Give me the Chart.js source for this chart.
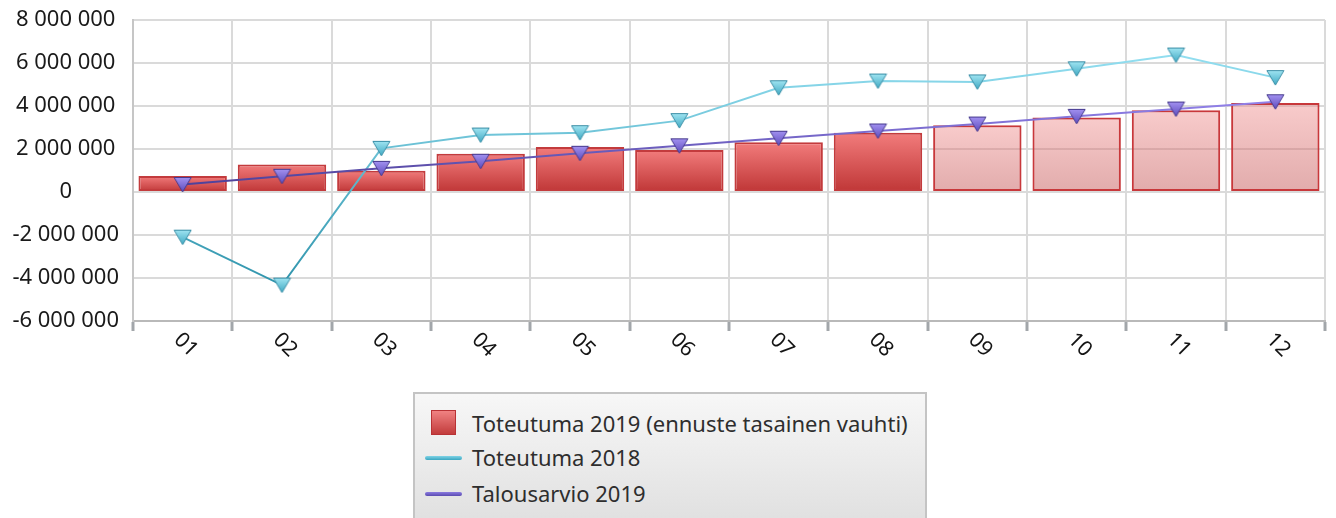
<!DOCTYPE html>
<html><head><meta charset="utf-8">
<script src="https://cdn.jsdelivr.net/npm/chart.js@4"></script>
<style>
html,body{margin:0;padding:0;background:#fff;}
#wrap{position:relative;width:1336px;height:518px;overflow:hidden;}
#c{position:absolute;left:0;top:0;}
#legend{position:absolute;left:413px;top:392px;width:510px;height:150px;border:2px solid #c4c4c4;background:linear-gradient(#f7f7f7,#dcdcdc);font-family:'Noto Sans',sans-serif;font-size:22px;color:#2e2e2e;}
.row{position:absolute;left:0;height:30px;width:100%;}
.row span.t{position:absolute;left:57px;top:0;line-height:30px;white-space:nowrap;}
.sq{position:absolute;left:16px;top:2px;width:23px;height:23px;border:1px solid #b83235;background:linear-gradient(#f08282,#c23c3c);}
.ln{position:absolute;left:10px;top:14px;width:37px;height:4px;border-radius:2px;}
</style>
</head><body>
<div id="wrap">
<canvas id="c" width="1336" height="518"></canvas>
<div id="legend"></div>
</div>
<script>
const months = ['01','02','03','04','05','06','07','08','09','10','11','12'];
const toteutuma2019 = [740000, 1280000, 990000, 1780000, 2090000, 1950000, 2310000, 2760000, 3100000, 3460000, 3800000, 4140000];
const ennuste2019 = [false, false, false, false, false, false, false, false, true, true, true, true];
const toteutuma2018 = [-2100000, -4330000, 2030000, 2650000, 2760000, 3320000, 4850000, 5160000, 5120000, 5730000, 6370000, 5320000];
const talousarvio2019 = [350000, 730000, 1100000, 1430000, 1800000, 2150000, 2500000, 2840000, 3160000, 3520000, 3860000, 4200000];
const seriesLabels = ['Toteutuma 2019 (ennuste tasainen vauhti)', 'Toteutuma 2018', 'Talousarvio 2019'];
const yMin = -6000000, yMax = 8000000, yStep = 2000000;

const FONT = "'Noto Sans', sans-serif";

function triangleMarker(top, bottom, stroke) {
  const c = document.createElement('canvas');
  c.width = 19; c.height = 17;
  const g = c.getContext('2d');
  const gr = g.createLinearGradient(0, 1, 0, 16);
  gr.addColorStop(0, top); gr.addColorStop(1, bottom);
  g.beginPath();
  g.moveTo(1, 1.5); g.lineTo(18, 1.5); g.lineTo(9.5, 16); g.closePath();
  g.fillStyle = gr; g.fill();
  g.lineWidth = 1; g.strokeStyle = stroke; g.stroke();
  return c;
}
const cyanMarker = triangleMarker('#a2e6f3', '#3fa9c3', '#3a8ea6');
const purpleMarker = triangleMarker('#a493f2', '#5d4bbd', '#463a8e');

function barFill(ctx) {
  const chart = ctx.chart;
  const i = ctx.dataIndex;
  const ys = chart.scales.y;
  if (!ys || i === undefined || !chart.chartArea) return '#e06060';
  const yTop = ys.getPixelForValue(ctx.raw);
  const y0 = ys.getPixelForValue(0);
  const g = chart.ctx.createLinearGradient(0, yTop, 0, y0);
  if (ennuste2019[i]) {
    g.addColorStop(0, 'rgba(240,140,140,0.45)');
    g.addColorStop(1, 'rgba(190,70,70,0.45)');
  } else {
    g.addColorStop(0, '#f27c7c');
    g.addColorStop(1, '#bf3636');
  }
  return g;
}
function lineGrad(top, bottom) {
  return function (ctx) {
    const chart = ctx.chart;
    const ys = chart.scales.y;
    if (!ys || !chart.chartArea) return bottom;
    const d = ctx.dataset.data;
    const yA = ys.getPixelForValue(Math.max(...d));
    const yB = ys.getPixelForValue(Math.min(...d));
    const g = chart.ctx.createLinearGradient(0, yA, 0, yB);
    g.addColorStop(0, top); g.addColorStop(1, bottom);
    return g;
  };
}
function fmt(v) {
  const s = Math.abs(v).toString().replace(/\B(?=(\d{3})+(?!\d))/g, ' ');
  return (v < 0 ? '-' : '') + s;
}

const xLabelPlugin = {
  id: 'xLabels',
  afterDraw(chart) {
    const xs = chart.scales.x;
    const g = chart.ctx;
    g.save();
    g.font = '21px ' + FONT;
    g.fillStyle = '#141414';
    g.textAlign = 'center';
    g.textBaseline = 'middle';
    chart.data.labels.forEach((l, i) => {
      const px = xs.getPixelForTick(i);
      g.save();
      g.translate(px + 3, xs.top + 24);
      g.rotate(Math.PI / 4);
      g.fillText(l, 0, 0);
      g.restore();
    });
    g.restore();
  }
};

const chart = new Chart(document.getElementById('c'), {
  data: {
    labels: months,
    datasets: [
      {
        type: 'bar', label: seriesLabels[0], data: toteutuma2019, order: 3,
        backgroundColor: barFill,
        borderColor: (ctx) => ennuste2019[ctx.dataIndex] ? '#c8383b' : '#c33b3d',
        borderWidth: 2, borderSkipped: false,
        barPercentage: 0.89, categoryPercentage: 1
      },
      {
        type: 'line', label: seriesLabels[1], data: toteutuma2018, order: 2,
        borderColor: lineGrad('#92def0', '#2f94ac'), borderWidth: 2,
        pointStyle: cyanMarker, pointRadius: 9, pointHoverRadius: 9, tension: 0, fill: false
      },
      {
        type: 'line', label: seriesLabels[2], data: talousarvio2019, order: 1,
        borderColor: lineGrad('#9282ea', '#4e419a'), borderWidth: 2,
        pointStyle: purpleMarker, pointRadius: 9, pointHoverRadius: 9, tension: 0, fill: false
      }
    ]
  },
  options: {
    responsive: false,
    animation: false,
    devicePixelRatio: 1,
    layout: { padding: { top: 20, right: 5, left: 0, bottom: 0 } },
    plugins: { legend: { display: false }, tooltip: { enabled: false } },
    scales: {
      x: {
        type: 'category', offset: true,
        grid: { offset: true, color: '#dadada', lineWidth: 2, drawTicks: true, tickLength: 10, tickColor: '#a2a6aa', tickWidth: 3 },
        border: { color: '#b9b9b9', width: 2 },
        ticks: { display: false },
        afterFit(s) { s.height = 197; }
      },
      y: {
        min: yMin, max: yMax,
        grid: { color: '#dadada', lineWidth: 2, drawTicks: true, tickLength: 14, tickColor: 'rgba(0,0,0,0)' },
        border: { color: '#c6c6c6', width: 2 },
        ticks: {
          stepSize: yStep, padding: 0, crossAlign: 'center',
          color: '#1a1a1a', font: { family: FONT, size: 22 },
          callback: (v) => fmt(v)
        },
        afterFit(s) { s.width = 133; }
      }
    }
  },
  plugins: [xLabelPlugin]
});

// HTML legend built from dataset labels
const legend = document.getElementById('legend');
const rowTops = [14, 48, 84];
chart.data.datasets.forEach((ds, i) => {
  const row = document.createElement('div');
  row.className = 'row';
  row.style.top = rowTops[i] + 'px';
  const sw = document.createElement('div');
  if (ds.type === 'bar') { sw.className = 'sq'; }
  else { sw.className = 'ln'; sw.style.background = i === 1 ? 'linear-gradient(#7fd3e6,#3aa6c0)' : 'linear-gradient(#8a7ae0,#5a4bb0)'; }
  const t = document.createElement('span');
  t.className = 't'; t.textContent = ds.label;
  row.appendChild(sw); row.appendChild(t);
  legend.appendChild(row);
});
</script>
</body></html>
